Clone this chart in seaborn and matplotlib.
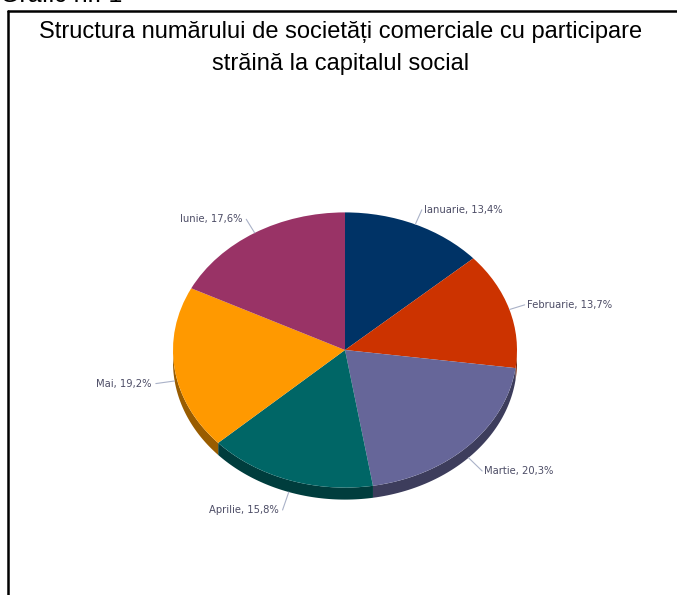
import numpy as np
import matplotlib
matplotlib.use("Agg")
import matplotlib.pyplot as plt
import seaborn as sns
from matplotlib.patches import Polygon

# Data
luni = ["Ianuarie", "Februarie", "Martie", "Aprilie", "Mai", "Iunie"]
procente = [13.4, 13.7, 20.3, 15.8, 19.2, 17.6]
culori = ["#003366", "#CC3300", "#666699", "#006666", "#FF9900", "#993366"]
titlu = "Structura numărului de societăți comerciale cu participare\nstrăină la capitalul social"

sns.set_theme(style="white")
plt.rcParams['font.family'] = ['Liberation Sans', 'DejaVu Sans']

W, H = 677, 595
fig = plt.figure(figsize=(W / 100, H / 100), dpi=100)
ax = fig.add_axes([0, 0, 1, 1])

# pixel-like coordinates; y squashed so the pie looks tilted
squash = 0.8
cx, cy = 345, 350
r = 172
depth = 12
cy_data = (H - cy) / squash

wedges, _ = ax.pie(procente, colors=culori, startangle=90, counterclock=False,
                   center=(cx, cy_data), radius=r, frame=True,
                   wedgeprops=dict(linewidth=0, zorder=3))
ax.set_aspect('auto')
ax.set_xlim(0, W)
ax.set_ylim(0, H / squash)
ax.axis('off')

# side wall of the 3d pie (front half only)
d = depth / squash
for w, c in zip(wedges, culori):
    a1, a2 = sorted([w.theta1, w.theta2])
    for off in (0, 360, -360):
        lo = max(a1, 180 + off)
        hi = min(a2, 360 + off)
        if hi > lo:
            t = np.radians(np.linspace(lo, hi, 60))
            xs = cx + r * np.cos(t)
            ys = cy_data + r * np.sin(t)
            pts = np.concatenate([np.column_stack([xs, ys]),
                                  np.column_stack([xs[::-1], ys[::-1] - d])])
            dark = tuple(v * 0.6 for v in matplotlib.colors.to_rgb(c))
            ax.add_patch(Polygon(pts, closed=True, facecolor=dark,
                                 edgecolor='none', zorder=2))

# labels with leader lines
for w, lab, p in zip(wedges, luni, procente):
    mid = np.radians((w.theta1 + w.theta2) / 2)
    ux, uy = np.cos(mid), np.sin(mid)
    x0 = cx + r * ux
    y0 = cy_data + r * uy
    if uy < 0:
        y0 -= d
    L = 16 if uy >= 0 else 19
    x1 = x0 + L * ux
    y1 = y0 + L * uy / squash
    ax.plot([x0, x1], [y0, y1], color="#aab2c8", lw=0.8, zorder=4)
    ha = 'left' if ux >= 0 else 'right'
    tx = x1 + (2 if ux >= 0 else -4)
    ax.text(tx, y1, f"{lab}, {p:.1f}%".replace('.', ','), ha=ha, va='center',
            fontsize=7.2, color="#4d4d66", family='DejaVu Sans', zorder=5)

# title and frame
fig.text(341 / W, 1 - 48 / H, titlu, ha='center', va='center', fontsize=17,
         linespacing=1.55, color='black')
fig.text(0, 1 + 17 / H, "Grafic nr. 1", ha='left', va='top', fontsize=18, color='black')
fig.add_artist(plt.Line2D([7.5 / W, 7.5 / W], [0, 1 - 10.5 / H], color='black', lw=1.8))
fig.add_artist(plt.Line2D([7.5 / W, 1], [1 - 10.5 / H, 1 - 10.5 / H], color='black', lw=1.8))

fig.savefig("out.png", dpi=100, facecolor='white')
